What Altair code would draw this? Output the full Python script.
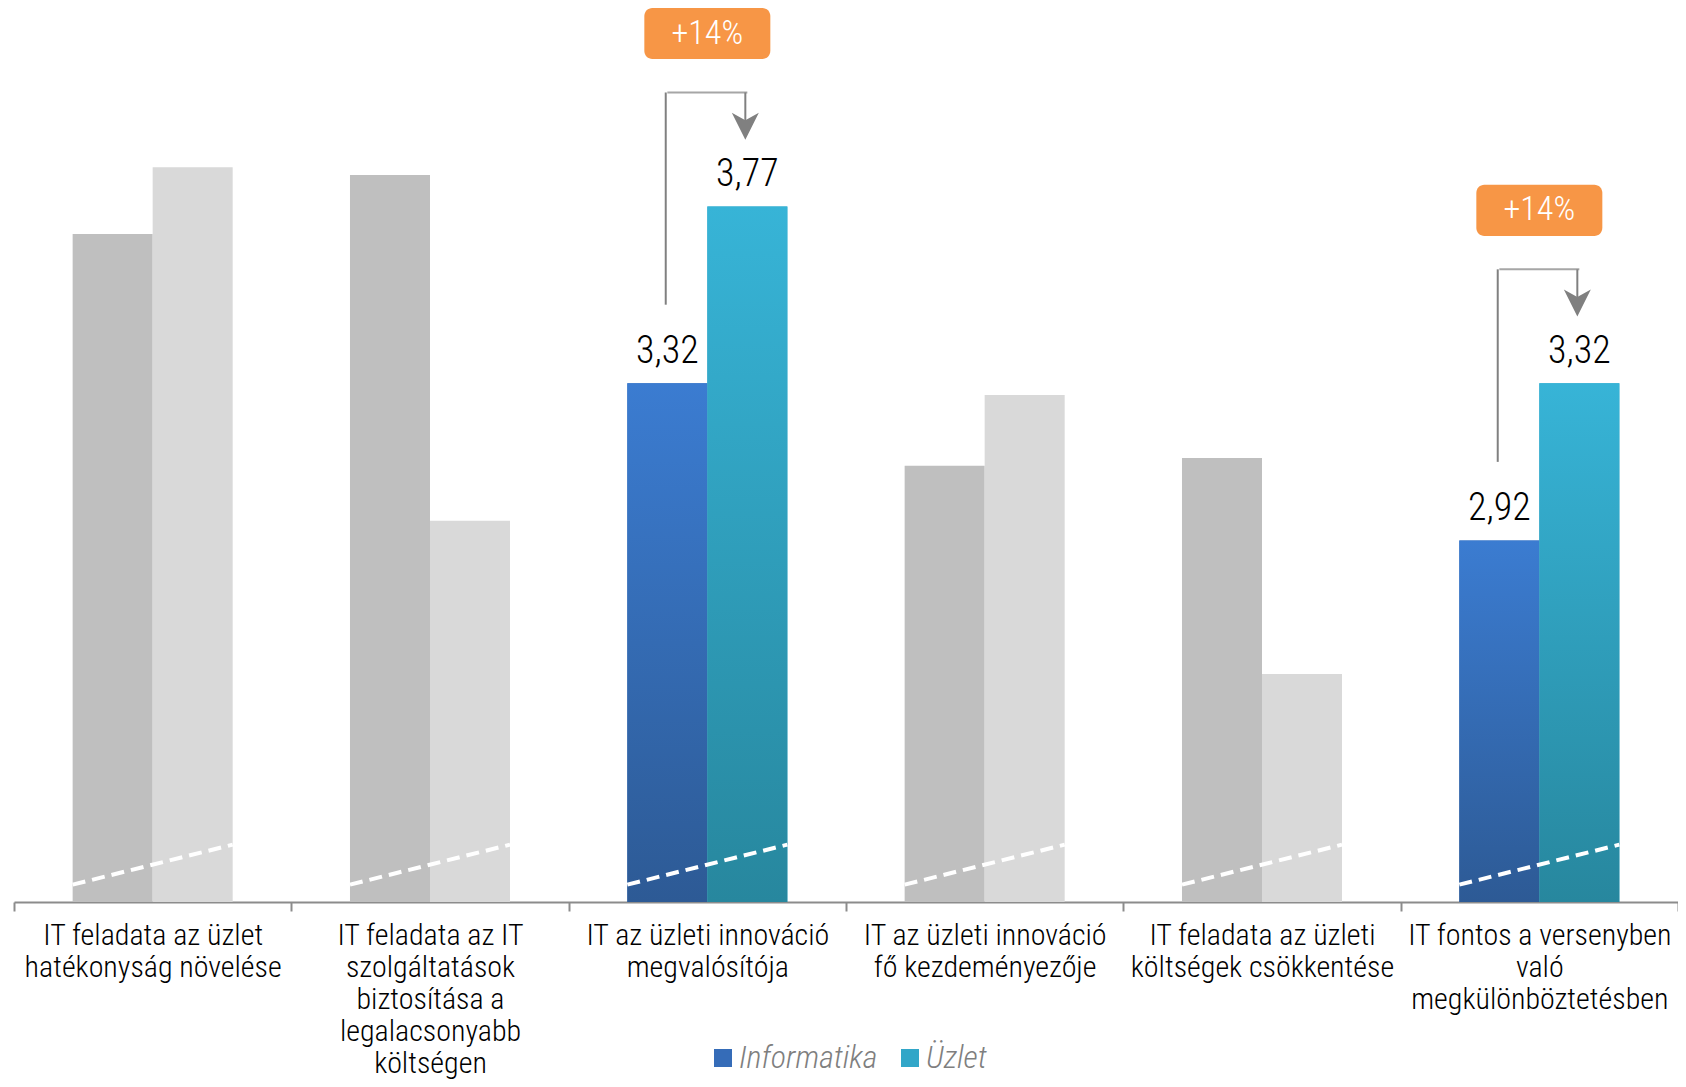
import altair as alt
import pandas as pd

# ---------------- data ----------------
categories = [
    "IT feladata az üzlet\nhatékonyság növelése",
    "IT feladata az IT\nszolgáltatások\nbiztosítása a\nlegalacsonyabb\nköltségen",
    "IT az üzleti innováció\nmegvalósítója",
    "IT az üzleti innováció\nfő kezdeményezője",
    "IT feladata az üzleti\nköltségek csökkentése",
    "IT fontos a versenyben\nvaló\nmegkülönböztetésben",
]
series = ["Informatika", "Üzlet"]
informatika = [3.70, 3.85, 3.32, 3.11, 3.13, 2.92]
uzlet = [3.87, 2.97, 3.77, 3.29, 2.58, 3.32]
highlighted = [False, False, True, False, False, True]

FONT = "Liberation Sans Narrow, Roboto Condensed, Arial Narrow, Roboto, sans-serif"
Y_MIN, Y_MAX = 2.0, 4.275

rows = []
for c, i, u, h in zip(categories, informatika, uzlet, highlighted):
    for s, v in zip(series, [i, u]):
        rows.append({"cat": c, "series": s, "value": v, "hl": h,
                     "label": f"{v:.2f}".replace(".", ",")})
df = pd.DataFrame(rows)

hl_rows = []
for c, i, u, h in zip(categories, informatika, uzlet, highlighted):
    if h:
        top = u + 0.29
        hl_rows.append({
            "cat": c,
            "pct": f"+{round((u / i - 1) * 100)}%",
            "y_bot": i + 0.20,
            "y_top": top,
            "y_head": u + 0.204,
            "box_lo": top + 0.150 - 0.065,
            "box_hi": top + 0.150 + 0.065,
            "box_mid": top + 0.150,
        })
hl_df = pd.DataFrame(hl_rows)
cat_df = pd.DataFrame({"cat": categories})

# ---------------- encodings ----------------
xscale = alt.Scale(domain=categories, paddingInner=0, paddingOuter=0)
xaxis = alt.Axis(
    title=None, labelAngle=0, labelFont=FONT, labelFontSize=30, labelFontWeight=300,
    labelColor="#000000", labelLineHeight=32, labelLimit=0, labelPadding=9,
    labelBaseline="top", labelExpr="split(datum.label, '\\n')",
    tickBand="extent", tickSize=9, tickWidth=2, tickColor="#8C8C8C",
    domainColor="#8C8C8C", domainWidth=2, grid=False,
)


def X(bp=None):
    if bp is None:
        return alt.X("cat:N", sort=categories, scale=xscale, axis=xaxis)
    return alt.X("cat:N", sort=categories, scale=xscale, axis=xaxis, bandPosition=bp)


XO = alt.XOffset("series:N", scale=alt.Scale(domain=series, paddingInner=0, paddingOuter=0.733))
yscale = alt.Scale(domain=[Y_MIN, Y_MAX], zero=False, nice=False)


def Y(f):
    return alt.Y(f, scale=yscale, axis=None)


base = alt.Chart(df)

grey_dark = base.transform_filter("!datum.hl && datum.series == 'Informatika'").mark_bar(
    color="#BFBFBF").encode(x=X(), xOffset=XO, y=Y("value:Q"), y2=alt.Y2(datum=Y_MIN))
grey_light = base.transform_filter("!datum.hl && datum.series == 'Üzlet'").mark_bar(
    color="#D9D9D9").encode(x=X(), xOffset=XO, y=Y("value:Q"), y2=alt.Y2(datum=Y_MIN))

legend_bars = base.transform_filter("datum.hl").mark_bar().encode(
    x=X(), xOffset=XO, y=Y("value:Q"), y2=alt.Y2(datum=Y_MIN),
    color=alt.Color("series:N", scale=alt.Scale(domain=series, range=["#356CB8", "#31A6C8"]),
                    legend=alt.Legend(orient="none", legendX=693, legendY=1034,
                                      direction="horizontal", title=None, labelFont=FONT,
                                      labelFontSize=32, labelFontStyle="italic",
                                      labelFontWeight=300,
                                      labelColor="#7F7F7F", symbolType="square",
                                      symbolSize=324, symbolStrokeWidth=0,
                                      columnPadding=16, labelOffset=0, padding=0)),
)

grad_info = alt.LinearGradient(gradient="linear", x1=0, x2=0, y1=0, y2=1, stops=[
    alt.GradientStop(color="#3B7CD1", offset=0), alt.GradientStop(color="#2D5A95", offset=1)])
grad_uz = alt.LinearGradient(gradient="linear", x1=0, x2=0, y1=0, y2=1, stops=[
    alt.GradientStop(color="#37B4D7", offset=0), alt.GradientStop(color="#27879E", offset=1)])

info_bars = base.transform_filter("datum.hl && datum.series == 'Informatika'").mark_bar(
    color=grad_info).encode(x=X(), xOffset=XO, y=Y("value:Q"), y2=alt.Y2(datum=Y_MIN))
uz_bars = base.transform_filter("datum.hl && datum.series == 'Üzlet'").mark_bar(
    color=grad_uz).encode(x=X(), xOffset=XO, y=Y("value:Q"), y2=alt.Y2(datum=Y_MIN))

# axis-break marks: a dashed diagonal stroke centred on each group
breaks = alt.Chart(cat_df).mark_point(
    shape="M -1 0.25 L 1 -0.25", filled=False, size=25600, color="white",
    strokeWidth=4, strokeDash=[13, 7], opacity=1).encode(
    x=X(), y=alt.Y(datum=2.095, scale=yscale, axis=None))

value_labels = base.transform_filter("datum.hl").mark_text(
    font=FONT, fontSize=38, fontWeight=300, color="#000000", baseline="alphabetic", dy=-20).encode(
    x=X(), xOffset=XO, y=Y("value:Q"), text="label:N")

hl = alt.Chart(hl_df)
LINE = dict(color="#808080", strokeWidth=2)
conn_left = hl.mark_rule(**LINE).encode(x=X(0.35), y=Y("y_bot:Q"), y2=alt.Y2("y_top"))
conn_top = hl.mark_tick(color="#808080", thickness=2, size=80).encode(x=X(0.4935), y=Y("y_top:Q"))
conn_right = hl.mark_rule(**LINE).encode(x=X(0.637), y=Y("y_top:Q"), y2=alt.Y2("y_head"))
arrow = hl.mark_point(shape="M 0 1 L -1 -1 L 0 -0.45 L 1 -1 Z", filled=True, size=729,
                      color="#808080", opacity=1, strokeWidth=0).encode(x=X(0.637), y=Y("y_head:Q"))

boxes = hl.mark_bar(color="#F79646", cornerRadius=8, width=126).encode(
    x=X(), y=Y("box_lo:Q"), y2=alt.Y2("box_hi"))
box_text = hl.mark_text(font=FONT, fontSize=34, fontWeight=300, color="white",
                        baseline="middle").encode(
    x=X(), y=Y("box_mid:Q"), text="pct:N")

chart = alt.layer(
    grey_dark, grey_light, legend_bars, info_bars, uz_bars, breaks, value_labels,
    conn_left, conn_top, conn_right, arrow, boxes, box_text,
).properties(
    width=1664, height=894,
    autosize=alt.AutoSizeParams(type="none"),
    padding={"left": 6, "right": 0, "top": 0, "bottom": 177},
).configure_view(stroke=None)

chart.save("out.html", embed_options={"renderer": "svg", "actions": False})
